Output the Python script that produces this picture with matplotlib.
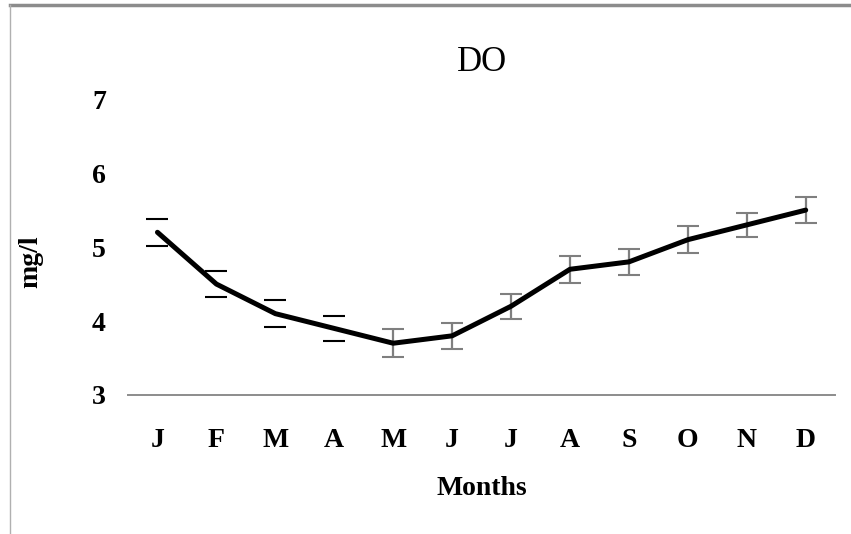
import numpy as np
import matplotlib
matplotlib.use("Agg")
import matplotlib.pyplot as plt
from matplotlib.lines import Line2D

months = ["J", "F", "M", "A", "M", "J", "J", "A", "S", "O", "N", "D"]
do_values = [5.2, 4.5, 4.1, 3.9, 3.7, 3.8, 4.2, 4.7, 4.8, 5.1, 5.3, 5.5]
do_err = [0.18, 0.18, 0.18, 0.17, 0.19, 0.18, 0.17, 0.18, 0.18, 0.18, 0.16, 0.18]
yticks = [3, 4, 5, 6, 7]

plt.rcParams["font.family"] = ["Liberation Serif", "DejaVu Serif"]

fig = plt.figure(figsize=(8.51, 5.34), dpi=100)
ax = fig.add_axes([0.1504, 0.2603, 0.831, 0.554])

x = np.arange(len(months))
vals = np.array(do_values)
err = np.array(do_err)

# first four points only show caps in the original
ax.errorbar(x[:4], vals[:4], yerr=err[:4], fmt="none", ecolor="black",
            elinewidth=0, capsize=8, capthick=1.5)
ax.errorbar(x[4:], vals[4:], yerr=err[4:], fmt="none", ecolor="#7f7f7f",
            elinewidth=1.6, capsize=8, capthick=1.5)
ax.plot(x, vals, color="black", linewidth=3.6, solid_capstyle="round")

ax.set_xlim(-0.5, len(months) - 0.5)
ax.set_ylim(3, 7)
ax.set_xticks(x)
ax.set_xticklabels(months, fontsize=20, fontweight="bold")
ax.set_yticks(yticks)
ax.set_yticklabels([str(v) for v in yticks], fontsize=20, fontweight="bold")
ax.tick_params(axis="both", length=0)
ax.tick_params(axis="x", pad=24)
ax.tick_params(axis="y", pad=16)

for s in ["top", "right", "left"]:
    ax.spines[s].set_visible(False)
ax.spines["bottom"].set_color("#8c8c8c")
ax.spines["bottom"].set_linewidth(1.4)

ax.set_title("DO", fontsize=25, pad=20)
ax.set_xlabel("Months", fontsize=20, fontweight="bold", labelpad=16)
ax.set_ylabel("mg/l", fontsize=20, fontweight="bold")
ax.yaxis.set_label_coords(-0.12, 0.45)

# outer frame remnants (top and left edges of the chart area)
fig.add_artist(Line2D([10 / 851, 1], [1 - 5 / 534, 1 - 5 / 534],
                      transform=fig.transFigure, color="#8c8c8c", linewidth=2.5))
fig.add_artist(Line2D([10 / 851, 10 / 851], [0, 1 - 5 / 534],
                      transform=fig.transFigure, color="#b0b0b0", linewidth=1))

fig.savefig("out.png", dpi=100)
